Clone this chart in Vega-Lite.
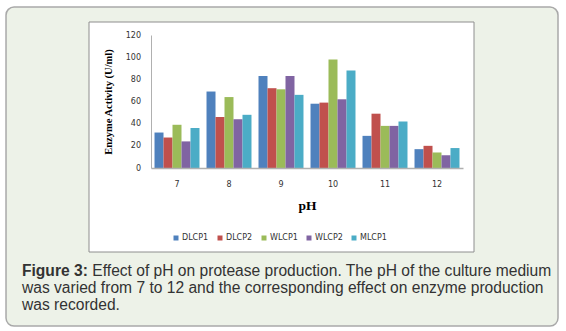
{
  "$schema": "https://vega.github.io/schema/vega-lite/v6.json",
  "width": 312,
  "height": 133,
  "padding": {"left": 5, "top": 6, "right": 7, "bottom": 4},
  "background": "white",
  "config": {
    "view": {"stroke": null},
    "axis": {"zindex": 1}
  },
  "resolve": {"scale": {"x": "independent", "y": "independent"}},
  "layer": [
    {
      "data": {"values": [{}]},
      "layer": [
        {
          "mark": {"type": "rect", "fill": "#EDF2E8", "stroke": "#a9a9a9", "strokeWidth": 1.5, "cornerRadius": 8},
          "encoding": {
            "x": {"datum": -0.4647, "type": "quantitative", "scale": {"domain": [0, 1]}, "axis": null},
            "x2": {"datum": 1.3045},
            "y": {"datum": 1.2105, "type": "quantitative", "scale": {"domain": [0, 1]}, "axis": null},
            "y2": {"datum": -1.188}
          }
        },
        {
          "mark": {"type": "rect", "fill": "white", "stroke": "#8e8e8e", "strokeWidth": 1},
          "encoding": {
            "x": {"datum": -0.1987, "type": "quantitative", "scale": {"domain": [0, 1]}, "axis": null},
            "x2": {"datum": 1.0353},
            "y": {"datum": 1.0977, "type": "quantitative", "scale": {"domain": [0, 1]}, "axis": null},
            "y2": {"datum": -0.6316}
          }
        },
        {
          "mark": {"type": "text", "text": "Figure 3:", "font": "Liberation Sans", "fontSize": 15.6, "fontWeight": "bold", "color": "#333333", "align": "left", "baseline": "alphabetic"},
          "encoding": {
            "x": {"datum": -0.4135, "type": "quantitative", "scale": {"domain": [0, 1]}, "axis": null},
            "y": {"datum": -0.8083, "type": "quantitative", "scale": {"domain": [0, 1]}, "axis": null}
          }
        },
        {
          "mark": {"type": "text", "text": "Effect of pH on protease production. The pH of the culture medium", "font": "Liberation Sans", "fontSize": 15.6, "color": "#333333", "align": "left", "baseline": "alphabetic"},
          "encoding": {
            "x": {"datum": -0.188, "type": "quantitative", "scale": {"domain": [0, 1]}, "axis": null},
            "y": {"datum": -0.8083, "type": "quantitative", "scale": {"domain": [0, 1]}, "axis": null}
          }
        },
        {
          "mark": {"type": "text", "text": ["was varied from 7 to 12 and the corresponding effect on enzyme production", "was recorded."], "lineHeight": 17.5, "font": "Liberation Sans", "fontSize": 15.6, "color": "#333333", "align": "left", "baseline": "alphabetic"},
          "encoding": {
            "x": {"datum": -0.4135, "type": "quantitative", "scale": {"domain": [0, 1]}, "axis": null},
            "y": {"datum": -0.9398, "type": "quantitative", "scale": {"domain": [0, 1]}, "axis": null}
          }
        }
      ]
    },
    {
      "data": {
        "values": [
          {"pH": 7, "series": "DLCP1", "activity": 32},
          {"pH": 7, "series": "DLCP2", "activity": 27.5},
          {"pH": 7, "series": "WLCP1", "activity": 39},
          {"pH": 7, "series": "WLCP2", "activity": 24},
          {"pH": 7, "series": "MLCP1", "activity": 36},
          {"pH": 8, "series": "DLCP1", "activity": 69},
          {"pH": 8, "series": "DLCP2", "activity": 46},
          {"pH": 8, "series": "WLCP1", "activity": 64},
          {"pH": 8, "series": "WLCP2", "activity": 44},
          {"pH": 8, "series": "MLCP1", "activity": 48},
          {"pH": 9, "series": "DLCP1", "activity": 83},
          {"pH": 9, "series": "DLCP2", "activity": 72},
          {"pH": 9, "series": "WLCP1", "activity": 71},
          {"pH": 9, "series": "WLCP2", "activity": 83},
          {"pH": 9, "series": "MLCP1", "activity": 66},
          {"pH": 10, "series": "DLCP1", "activity": 58},
          {"pH": 10, "series": "DLCP2", "activity": 59},
          {"pH": 10, "series": "WLCP1", "activity": 98},
          {"pH": 10, "series": "WLCP2", "activity": 62},
          {"pH": 10, "series": "MLCP1", "activity": 88},
          {"pH": 11, "series": "DLCP1", "activity": 29},
          {"pH": 11, "series": "DLCP2", "activity": 49},
          {"pH": 11, "series": "WLCP1", "activity": 38},
          {"pH": 11, "series": "WLCP2", "activity": 38},
          {"pH": 11, "series": "MLCP1", "activity": 42},
          {"pH": 12, "series": "DLCP1", "activity": 17},
          {"pH": 12, "series": "DLCP2", "activity": 20},
          {"pH": 12, "series": "WLCP1", "activity": 14},
          {"pH": 12, "series": "WLCP2", "activity": 11.5},
          {"pH": 12, "series": "MLCP1", "activity": 18}
        ]
      },
      "mark": {"type": "bar"},
      "encoding": {
        "x": {
          "field": "pH", "type": "ordinal",
          "scale": {"paddingInner": 0.135, "paddingOuter": 0.0675},
          "axis": {
            "title": "pH", "titleFont": "Liberation Serif", "titleFontWeight": "bold", "titleFontSize": 13.5, "titleColor": "#000000", "titlePadding": 10,
            "labelFont": "DejaVu Sans", "labelFontSize": 8, "labelColor": "#333333", "labelAngle": 0, "labelPadding": 12,
            "ticks": false, "domainColor": "#b0b0b0", "domainWidth": 1.5, "zindex": 1
          }
        },
        "xOffset": {
          "field": "series", "type": "nominal",
          "sort": ["DLCP1", "DLCP2", "WLCP1", "WLCP2", "MLCP1"],
          "scale": {"paddingInner": 0, "paddingOuter": 0}
        },
        "y": {
          "field": "activity", "type": "quantitative",
          "scale": {"domain": [0, 120]},
          "axis": {
            "title": "Enzyme Activity (U/ml)", "titleFont": "Liberation Serif", "titleFontWeight": "bold", "titleFontSize": 10.5, "titleColor": "#000000", "titlePadding": 12,
            "values": [0, 20, 40, 60, 80, 100, 120],
            "labelFont": "DejaVu Sans", "labelFontSize": 8, "labelColor": "#333333", "labelPadding": 10.5,
            "ticks": false, "grid": false, "domainColor": "#b0b0b0", "zindex": 1
          }
        },
        "color": {
          "field": "series", "type": "nominal",
          "scale": {"domain": ["DLCP1", "DLCP2", "WLCP1", "WLCP2", "MLCP1"], "range": ["#4F81BD", "#C0504D", "#9BBB59", "#8064A2", "#4BACC6"]},
          "legend": {
            "orient": "none", "legendX": 21, "legendY": 199, "direction": "horizontal", "title": null,
            "symbolType": "square", "symbolSize": 25, "symbolStrokeWidth": 0,
            "labelFont": "DejaVu Sans", "labelFontSize": 8, "labelColor": "#333333", "labelOffset": 2,
            "columnPadding": 7, "padding": 0, "zindex": 1
          }
        }
      }
    }
  ]
}
